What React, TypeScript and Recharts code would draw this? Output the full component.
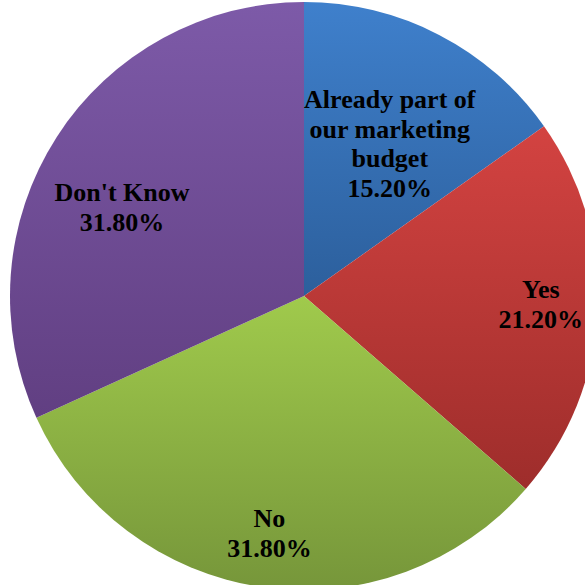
import { PieChart, Pie, Cell } from "recharts";

const categories = ["Already part of our marketing budget", "Yes", "No", "Don't Know"];
const categoryLines = [["Already part of", "our marketing", "budget"], ["Yes"], ["No"], ["Don't Know"]];
const shares = [15.2, 21.2, 31.8, 31.8];

const colorsTop = ["#3f80cc", "#d34341", "#a0ca4c", "#7d5aa8"];
const colorsBottom = ["#2c5f9c", "#9e2d2b", "#76963a", "#613f82"];

const data = categories.map((name, i) => ({ name, value: shares[i], lines: categoryLines[i] }));

// label placement: fraction of radius and angle nudge (Excel "best fit")
const labelRadius = [0.595, 0.806, 0.815, 0.689];
const labelNudge = [-2, 1, 0, 6.7];
const RAD = Math.PI / 180;
const LINE_H = 29.5;

function renderLabel(props: any) {
  const { cx, cy, midAngle, outerRadius, index } = props;
  const r = outerRadius * labelRadius[index];
  const a = midAngle + labelNudge[index];
  const x = cx + r * Math.cos(-a * RAD);
  const y = cy + r * Math.sin(-a * RAD);
  const lines: string[] = [...data[index].lines, `${shares[index].toFixed(2)}%`];
  const top = y - ((lines.length - 1) * LINE_H) / 2;
  return (
    <text
      x={x}
      y={top}
      textAnchor="middle"
      dominantBaseline="central"
      fill="#000"
      fontFamily='"Times New Roman", "Liberation Serif", serif'
      fontWeight="bold"
      fontSize={26}
    >
      {lines.map((l, i) => (
        <tspan key={i} x={x} y={top + i * LINE_H}>
          {l}
        </tspan>
      ))}
    </text>
  );
}

export default function App() {
  return (
    <div style={{ width: 585, height: 585, background: "#fff" }}>
      <style>{`body{margin:0}`}</style>
      <PieChart width={585} height={585} margin={{ top: 0, right: 0, bottom: 0, left: 0 }}>
        <defs>
          {colorsTop.map((c, i) => (
            <linearGradient key={i} id={`slice${i}`} x1="0" y1="0" x2="0" y2="1">
              <stop offset="0%" stopColor={c} />
              <stop offset="100%" stopColor={colorsBottom[i]} />
            </linearGradient>
          ))}
        </defs>
        <Pie
          data={data}
          dataKey="value"
          nameKey="name"
          cx={304}
          cy={296}
          innerRadius={0}
          outerRadius={294}
          startAngle={90}
          endAngle={-270}
          stroke="none"
          labelLine={false}
          label={renderLabel}
          isAnimationActive={false}
        >
          {data.map((_, i) => (
            <Cell key={i} fill={`url(#slice${i})`} />
          ))}
        </Pie>
      </PieChart>
    </div>
  );
}
